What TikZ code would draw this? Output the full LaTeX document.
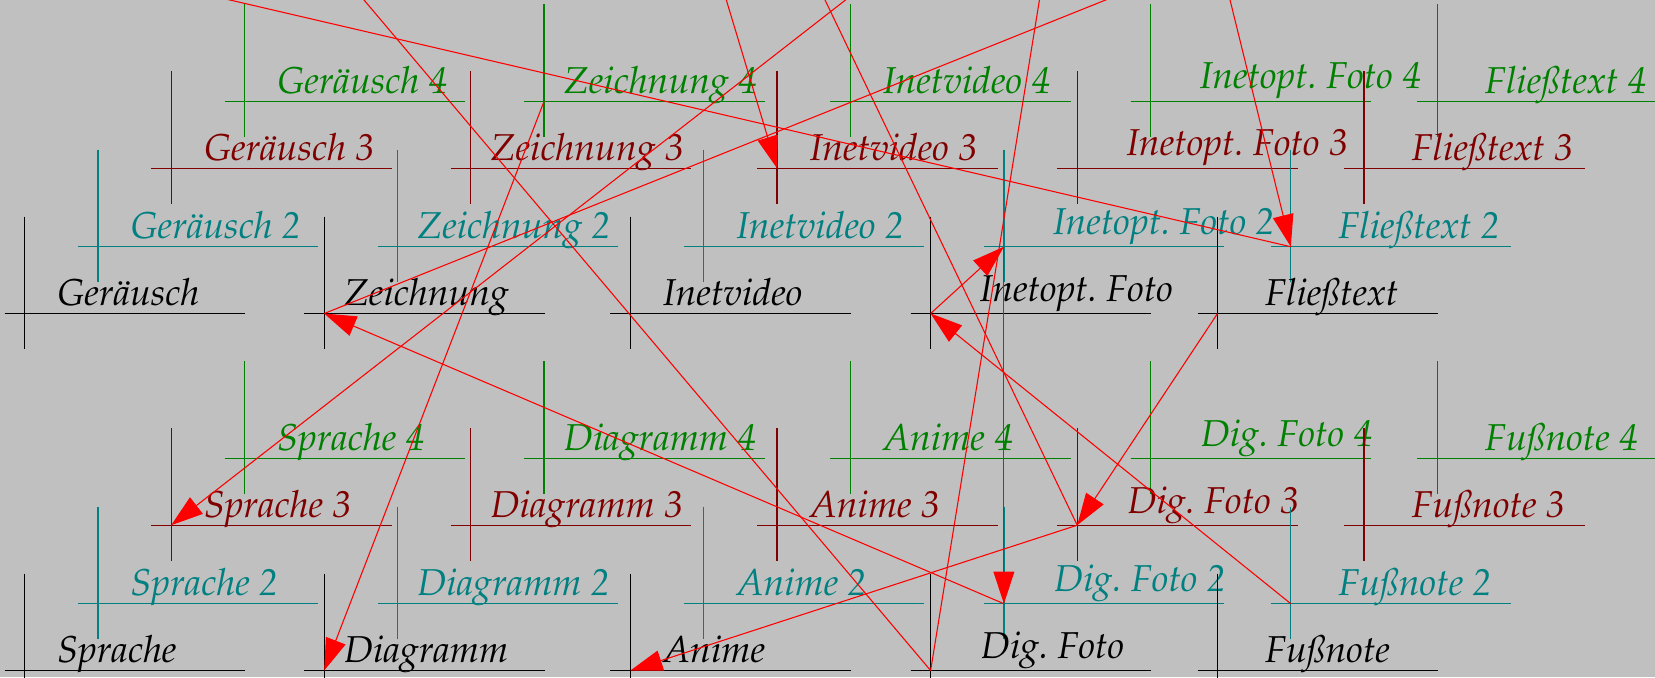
\documentclass[tikz,border=0pt]{standalone}
\usepackage[T1]{fontenc}
\usepackage{palatino}
\usetikzlibrary{arrows.meta}

\definecolor{bgray}{RGB}{192,192,192}
\definecolor{lvlteal}{RGB}{0,128,128}
\definecolor{lvlred}{RGB}{128,0,0}
\definecolor{lvlgreen}{RGB}{0,128,0}

\begin{document}
\begin{tikzpicture}[x=0.25pt,y=-0.25pt,
    crossline/.style={line width=0.32pt},
    lbl/.style={inner sep=0pt,anchor=base west,font=\fontsize{9.35}{10}\selectfont\itshape},
    redarrow/.style={red,line width=0.27pt,-{Triangle[length=8pt,width=5.2pt]}}]
  \useasboundingbox (0,0) rectangle (1655,677);
  \fill[bgray] (0,0) rectangle (1655,677);
  \clip (0,0) rectangle (1655,677);

  % crosses with their labels, four levels per column
  \foreach \nm/\txt/\cx/\cy/\tdx/\tdy in {
      geraeusch/Ger\"ausch/24.6/313.5/32/0,
      zeichnung/Zeichnung/324.2/313.5/19/0,
      inetvideo/Inetvideo/630.4/313.5/32/0,
      inetfoto/Inetopt.\ Foto/930.6/313.5/48.5/4.5,
      fliesstext/Flie\ss{}text/1217.5/313.5/47/0,
      sprache/Sprache/24.6/670.5/32/0,
      diagramm/Diagramm/324.2/670.5/19/0,
      anime/Anime/630.4/670.5/32/0,
      digfoto/Dig.\ Foto/930.6/670.5/49.5/4,
      fussnote/Fu\ss{}note/1217.5/670.5/47/0}{
    \foreach \lv/\col/\sfx/\ox/\oy in {
        4/lvlgreen/\ 4/219.9/-212.3,
        3/lvlred/\ 3/146.6/-145.3,
        2/lvlteal/\ 2/73.3/-66.8,
        1/black//0/0}{
      \coordinate (\nm\lv) at (\cx+\ox,\cy+\oy);
      \draw[crossline,\col] (\nm\lv) ++(0,-97) -- ++(0,132.5);
      \draw[crossline,\col] (\nm\lv) ++(-20,0) -- ++(240.5,0);
      \node[lbl,text=\col] (\nm\lv t) at ([shift={(\tdx,-8-\tdy)}]\nm\lv) {\txt\sfx};
    }
  }

  % ends outside the frame
  \coordinate (outA) at (-114,-80);
  \coordinate (outB) at (1210.3,-80);
  \coordinate (outC) at (296.4,-80);
  \coordinate (outD) at (1052.4,-80);
  \coordinate (outE) at (1305,-80);
  \coordinate (outF) at (948.2,-80);
  \coordinate (outG) at (702.2,-80);
  \coordinate (outH) at (786.6,-80);

  \draw[redarrow] (fliesstext2) -- (outA);
  \draw[redarrow] (outB) -- (fliesstext2);
  \draw[redarrow] (digfoto1) -- (outC);
  \draw[redarrow] (digfoto1) -- (outD);
  \draw[redarrow] (inetfoto2) -- (digfoto2);
  \draw[redarrow] (inetfoto1) -- (inetfoto2);
  \draw[redarrow] (fussnote2) -- (inetfoto1);
  \draw[redarrow] (fliesstext1) -- (digfoto3);
  \draw[redarrow] (digfoto3) -- (anime1);
  \draw[redarrow] (digfoto2) -- (zeichnung1);
  \draw[redarrow] (zeichnung1) -- (outE);
  \draw[redarrow] (outF) -- (sprache3);
  \draw[redarrow] (zeichnung4) -- (diagramm1);
  \draw[redarrow] (outG) -- (inetvideo3);
  \draw[redarrow] (digfoto3) -- (outH);
\end{tikzpicture}
\end{document}
